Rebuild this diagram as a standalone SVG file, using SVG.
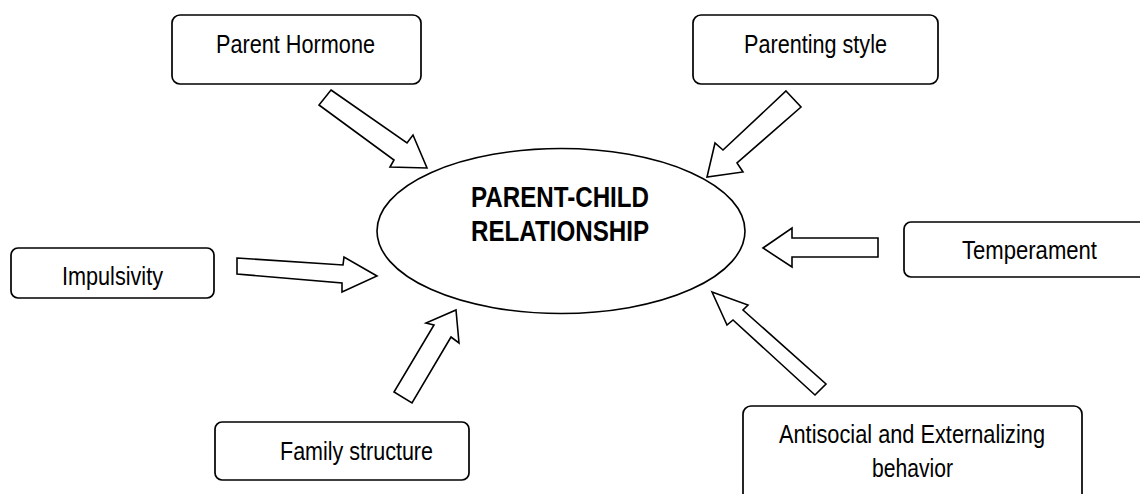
<svg xmlns="http://www.w3.org/2000/svg" width="1140" height="494" viewBox="0 0 1140 494">
<style>
.box{fill:#fff;stroke:#000;stroke-width:1.7}
.lbl{font-family:"Liberation Sans",Arial,sans-serif;font-size:26px;fill:#000;text-anchor:middle}
.title{font-family:"Liberation Sans",Arial,sans-serif;font-size:29px;font-weight:bold;fill:#000;text-anchor:middle}
.arr{fill:#fff;stroke:#000;stroke-width:1.6;stroke-linejoin:miter}
</style>
<rect width="1140" height="494" fill="#fff"/>
<g id="center">
<ellipse cx="561" cy="231" rx="184" ry="82.5" fill="#fff" stroke="#000" stroke-width="1.6"/>
<text class="title" x="560" y="207" textLength="178" lengthAdjust="spacingAndGlyphs">PARENT-CHILD</text>
<text class="title" x="560" y="241" textLength="178" lengthAdjust="spacingAndGlyphs">RELATIONSHIP</text>
</g>
<g id="parent-hormone">
<rect class="box" x="172" y="15" width="249" height="69" rx="8"/>
<text class="lbl" x="295.5" y="53" textLength="159" lengthAdjust="spacingAndGlyphs">Parent Hormone</text>
</g>
<g id="parenting-style">
<rect class="box" x="693" y="15" width="245" height="69" rx="8"/>
<text class="lbl" x="815.5" y="52.5" textLength="143" lengthAdjust="spacingAndGlyphs">Parenting style</text>
</g>
<g id="impulsivity">
<rect class="box" x="11" y="248" width="203" height="50" rx="7"/>
<text class="lbl" x="112.5" y="285" textLength="101" lengthAdjust="spacingAndGlyphs">Impulsivity</text>
</g>
<g id="temperament">
<rect class="box" x="904" y="222" width="251" height="55" rx="7"/>
<text class="lbl" x="1029.5" y="259" textLength="135" lengthAdjust="spacingAndGlyphs">Temperament</text>
</g>
<g id="family-structure">
<rect class="box" x="215" y="422" width="254" height="58" rx="7"/>
<text class="lbl" x="356.5" y="459.5" textLength="153" lengthAdjust="spacingAndGlyphs">Family structure</text>
</g>
<g id="antisocial">
<rect class="box" x="743" y="406" width="339" height="100" rx="8"/>
<text class="lbl" x="912" y="442.5" textLength="266" lengthAdjust="spacingAndGlyphs">Antisocial and Externalizing</text>
<text class="lbl" x="912.5" y="476.5" textLength="81" lengthAdjust="spacingAndGlyphs">behavior</text>
</g>
<g id="connectors">
<polygon class="arr" points="331,90 407,143 413,135 427,168 390,167 394,160 319,105"/>
<polygon class="arr" points="786,91 801,107 737,163 743,172 707,177 715,143 723,150"/>
<polygon class="arr" points="237,258 343,265 344,257 377,276 342,292 342,283 237,274"/>
<polygon class="arr" points="763,248 792,228 792,238 878,238 878,257 792,257 792,267"/>
<polygon class="arr" points="456,310 459,343 451,337 412,403 394,392 434,325 426,323"/>
<polygon class="arr" points="712,292 748,305 743,310 826,384 815,395 733,320 727,325"/>
</g>
</svg>
